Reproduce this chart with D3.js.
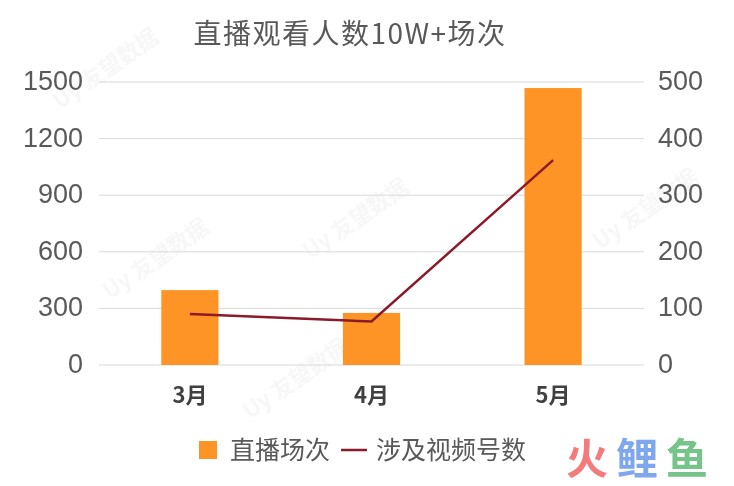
<!DOCTYPE html>
<html><head><meta charset="utf-8">
<script src="https://cdn.jsdelivr.net/npm/d3@7"></script>
<style>body{margin:0;background:#fff}svg{display:block}</style>
</head><body>
<svg id="c" width="734" height="486"></svg>
<script>
const categories = ["3月","4月","5月"];
const barValues = [397, 276, 1468];
const lineValues = [90, 77, 362];
const leftTicks = [0,300,600,900,1200,1500];
const rightTicks = [0,100,200,300,400,500];
const title = "直播观看人数10W+场次";
const barName = "直播场次", lineName = "涉及视频号数";
const brand = ["火","鲤","鱼"];
const brandColors = ["#f37b7b","#7ea7ee","#76c48a"];

const svg = d3.select("#c");
const font = "'Noto Sans CJK SC','Noto Sans',sans-serif";
const numFont = "'Liberation Sans',Arial,sans-serif";
const m = {l:99, r:90, t:82, b:121};
const W = 734, H = 486;
const x = d3.scaleBand().domain(categories).range([m.l, W-m.r]).paddingInner(0.685).paddingOuter(0.343);
const yL = d3.scaleLinear().domain([0,1500]).range([H-m.b, m.t]);
const yR = d3.scaleLinear().domain([0,500]).range([H-m.b, m.t]);

// faint watermarks
const wm = [[110,300],[310,260],[250,420],[600,250],[60,110]];
const wg = svg.append("g").attr("opacity",0.05).attr("fill","#555");
wm.forEach(([a,b])=>{
  wg.append("text").attr("transform",`translate(${a},${b}) rotate(-35)`).attr("font-family",font).attr("font-weight","bold").attr("font-size",22).text("Uy 友望数据");
});

// gridlines
svg.append("g").selectAll("line").data(leftTicks).join("line")
  .attr("x1",m.l).attr("x2",W-m.r).attr("y1",d=>yL(d)).attr("y2",d=>yL(d))
  .attr("stroke","#d9d9d9").attr("stroke-width",1);

// bars
svg.append("g").selectAll("rect").data(barValues).join("rect")
  .attr("x",(d,i)=>x(categories[i])).attr("width",x.bandwidth())
  .attr("y",d=>yL(d)).attr("height",d=>yL(0)-yL(d)).attr("fill","#ff9426");

// line
const line = d3.line().x((d,i)=>x(categories[i])+x.bandwidth()/2).y(d=>yR(d));
svg.append("path").datum(lineValues).attr("d",line).attr("fill","none")
  .attr("stroke","#8b1a2a").attr("stroke-width",2.5);

// axes
const fmt = d3.format("d");
const axL = d3.axisLeft(yL).tickValues(leftTicks).tickFormat(fmt).tickSize(0).tickPadding(16);
const gL = svg.append("g").attr("transform",`translate(${m.l},0)`).call(axL);
const axR = d3.axisRight(yR).tickValues(rightTicks).tickFormat(fmt).tickSize(0).tickPadding(14);
const gR = svg.append("g").attr("transform",`translate(${W-m.r},0)`).call(axR);
[gL,gR].forEach(g=>{
  g.select(".domain").remove();
  g.selectAll("text").attr("font-family",numFont).attr("font-size",27).attr("fill","#595959").attr("dy","0.28em");
});
const axB = d3.axisBottom(x).tickSize(0).tickPadding(22);
const gB = svg.append("g").attr("transform",`translate(0,${H-m.b})`).call(axB);
gB.select(".domain").remove();
gB.selectAll("text").attr("font-family",font).attr("font-weight","bold").attr("font-size",22).attr("fill","#404040");

// title
svg.append("text").attr("x",350).attr("y",44).attr("text-anchor","middle")
  .attr("font-family",font).attr("font-size",28).attr("letter-spacing",1.5).attr("fill","#595959").text(title);

// legend
const lg = svg.append("g");
lg.append("rect").attr("x",199).attr("y",441).attr("width",18).attr("height",18).attr("fill","#ff9426");
lg.append("text").attr("x",230).attr("y",459).attr("font-family",font).attr("font-size",25).attr("fill","#595959").text(barName);
lg.append("line").attr("x1",341).attr("x2",367).attr("y1",450).attr("y2",450).attr("stroke","#8b1a2a").attr("stroke-width",2.5);
lg.append("text").attr("x",376).attr("y",459).attr("font-family",font).attr("font-size",25).attr("fill","#595959").text(lineName);

// brand logo
svg.append("g").selectAll("text").data(brand).join("text")
  .attr("x",(d,i)=>587+i*50).attr("y",474).attr("text-anchor","middle")
  .attr("font-family",font).attr("font-weight","bold").attr("font-size",42)
  .attr("fill",(d,i)=>brandColors[i]).text(d=>d);
</script>
</body></html>
